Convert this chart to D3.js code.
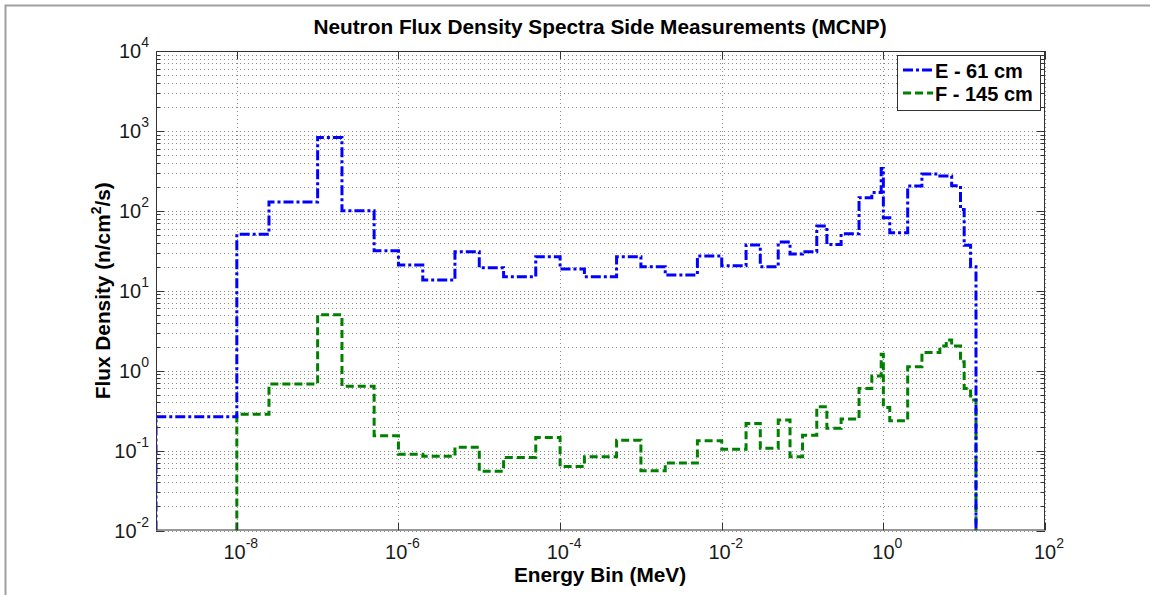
<!DOCTYPE html>
<html>
<head>
<meta charset="utf-8">
<script src="https://cdn.jsdelivr.net/npm/d3@7"></script>
<style>
  html, body { margin: 0; padding: 0; background: #ffffff; }
  svg { display: block; font-family: "Liberation Sans", Arial, Helvetica, sans-serif; }
</style>
</head>
<body>
<svg id="chart" width="1150" height="595"></svg>
<script>
// Energy bin edges (MeV) shared by both tallies
const energyEdges = [1e-9, 1e-8, 2.5e-8, 1e-7, 2e-7, 5e-7, 1e-6, 2e-6, 5e-6, 1e-5, 2e-5,
  5e-5, 1e-4, 2e-4, 5e-4, 1e-3, 2e-3, 5e-3, 1e-2, 2e-2, 3e-2, 5e-2, 7e-2, 0.1, 0.15, 0.2,
  0.3, 0.5, 0.72, 0.94, 1.0, 1.2, 2, 3, 5, 6, 7, 9, 10, 12, 14];

// Flux density per bin (n/cm^2/s), one value per bin
const fluxE61 = [0.265, 51, 129, 830, 100, 31.6, 21, 13.6, 30.8, 19.4, 15, 26.7, 18.7, 15,
  26.7, 20, 15.7, 27.2, 20.6, 37.3, 20, 40.7, 28.8, 30.8, 64.5, 38, 51.5, 146, 169, 339,
  82, 53, 204, 288, 273, 273, 206, 104, 37, 20];
const fluxF145 = [0, 0.284, 0.68, 5, 0.64, 0.153, 0.09, 0.085, 0.11, 0.055, 0.082, 0.146,
  0.063, 0.084, 0.135, 0.056, 0.07, 0.133, 0.104, 0.219, 0.107, 0.241, 0.084, 0.156, 0.353,
  0.19, 0.248, 0.6, 0.86, 1.6, 0.347, 0.236, 1.12, 1.69, 2.03, 2.42, 2.03, 1.29, 0.6, 0.43];

const seriesNames = ["E - 61 cm", "F - 145 cm"];
const xTickExponents = [-8, -6, -4, -2, 0, 2];
const yTickExponents = [-2, -1, 0, 1, 2, 3, 4];
const titleText = "Neutron Flux Density Spectra Side Measurements (MCNP)";
const xLabelText = "Energy Bin (MeV)";

const svg = d3.select("#chart");
const W = 1150, H = 595;
const plot = { left: 156, right: 1045, top: 51, bottom: 530.5 };

const x = d3.scaleLog().domain([1e-9, 1e2]).range([plot.left, plot.right]);
const y = d3.scaleLog().domain([1e-2, 1e4]).range([plot.bottom, plot.top]).clamp(true);

// figure frame (left & top edges)
svg.append("path")
  .attr("d", `M5.5,${H} V5.5 H${W}`)
  .attr("fill", "none").attr("stroke", "#a0a0a0").attr("stroke-width", 2);

// y grid: majors and minors for each decade
const yMinor = [];
yTickExponents.forEach(e => {
  if (e < 4) for (let m = 2; m <= 9; m++) yMinor.push(m * Math.pow(10, e));
});
const yMajor = yTickExponents.map(e => Math.pow(10, e));
const grid = svg.append("g").attr("stroke", "#8a8a8a").attr("stroke-width", 1)
  .attr("stroke-dasharray", "1,3").attr("fill", "none");
yMajor.concat(yMinor).forEach(v => {
  const yy = Math.round(y(v)) + 0.5;
  grid.append("line").attr("x1", plot.left).attr("x2", plot.right)
    .attr("y1", yy).attr("y2", yy);
});
const xMajor = xTickExponents.map(e => Math.pow(10, e));
xMajor.forEach(v => {
  const xx = Math.round(x(v)) + 0.5;
  grid.append("line").attr("x1", xx).attr("x2", xx)
    .attr("y1", plot.top).attr("y2", plot.bottom);
});

// step outline for a tally; leading empty bins are not drawn
function stepPoints(edges, vals) {
  const floor = y.domain()[0];
  let start = 0;
  while (start < vals.length && !(vals[start] > 0)) start++;
  const pts = [[edges[start], floor]];
  for (let i = start; i < vals.length; i++) {
    const vv = vals[i] > 0 ? vals[i] : floor;
    pts.push([edges[i], vv]);
    pts.push([edges[i + 1], vv]);
  }
  pts.push([edges[edges.length - 1], floor]);
  return pts;
}
svg.append("clipPath").attr("id", "plotClip").append("rect")
  .attr("x", plot.left).attr("y", plot.top - 2)
  .attr("width", plot.right - plot.left).attr("height", plot.bottom - plot.top + 2);

const line = d3.line().x(d => x(d[0])).y(d => y(d[1]));
const styles = [
  { color: "#0000ff", dash: "10,3,3,3" },
  { color: "#008000", dash: "8,4" }
];
const series = [fluxE61, fluxF145];
const lines = svg.append("g").attr("clip-path", "url(#plotClip)");
// draw F first so E sits on top where they overlap
[1, 0].forEach(i => {
  lines.append("path")
    .attr("d", line(stepPoints(energyEdges, series[i])))
    .attr("fill", "none")
    .attr("stroke", styles[i].color)
    .attr("stroke-width", 3)
    .attr("stroke-dasharray", styles[i].dash)
    .attr("stroke-linejoin", "miter");
});

// axes box with inward ticks
const axis = svg.append("g").attr("stroke", "#333333").attr("stroke-width", 1).attr("fill", "none");
axis.append("rect")
  .attr("x", plot.left + 0.5).attr("y", plot.top + 0.5)
  .attr("width", plot.right - plot.left - 1).attr("height", plot.bottom - plot.top - 1);
yMajor.forEach(v => {
  const yy = Math.round(y(v)) + 0.5;
  axis.append("line").attr("x1", plot.left).attr("x2", plot.left + 8).attr("y1", yy).attr("y2", yy);
  axis.append("line").attr("x1", plot.right - 8).attr("x2", plot.right).attr("y1", yy).attr("y2", yy);
});
yMinor.forEach(v => {
  const yy = Math.round(y(v)) + 0.5;
  axis.append("line").attr("x1", plot.left).attr("x2", plot.left + 4).attr("y1", yy).attr("y2", yy);
  axis.append("line").attr("x1", plot.right - 4).attr("x2", plot.right).attr("y1", yy).attr("y2", yy);
});
xMajor.forEach(v => {
  const xx = Math.round(x(v)) + 0.5;
  axis.append("line").attr("x1", xx).attr("x2", xx).attr("y1", plot.bottom - 8).attr("y2", plot.bottom);
  axis.append("line").attr("x1", xx).attr("x2", xx).attr("y1", plot.top).attr("y2", plot.top + 8);
});

// tick labels as 10 with superscript exponent
function powerLabel(g, e, px, py, anchor) {
  const t = g.append("text")
    .attr("x", px).attr("y", py)
    .attr("text-anchor", anchor)
    .attr("font-size", 20).attr("fill", "#1a1a1a");
  t.append("tspan").text("10");
  t.append("tspan").attr("dy", -11).attr("font-size", 14).text(String(e));
}
const labels = svg.append("g");
xTickExponents.forEach(e => powerLabel(labels, e, x(Math.pow(10, e)) + 4, 559, "middle"));
yTickExponents.forEach(e => powerLabel(labels, e, 149, y(Math.pow(10, e)) + 7, "end"));

// title and axis titles
svg.append("text")
  .attr("x", 600).attr("y", 34).attr("text-anchor", "middle")
  .attr("font-size", 20.8).attr("font-weight", "bold").attr("fill", "#000")
  .text(titleText);
svg.append("text")
  .attr("x", 600).attr("y", 582).attr("text-anchor", "middle")
  .attr("font-size", 20.8).attr("font-weight", "bold").attr("fill", "#000")
  .text(xLabelText);
const yl = svg.append("text")
  .attr("transform", `translate(110,${(plot.top + plot.bottom) / 2}) rotate(-90)`)
  .attr("text-anchor", "middle")
  .attr("font-size", 20.8).attr("font-weight", "bold").attr("fill", "#000");
yl.append("tspan").text("Flux Density (n/cm");
yl.append("tspan").attr("dy", -9).attr("font-size", 14).text("2");
yl.append("tspan").attr("dy", 9).text("/s)");

// legend
const lg = svg.append("g");
lg.append("rect")
  .attr("x", 897.5).attr("y", 55.5).attr("width", 143).attr("height", 55)
  .attr("fill", "#ffffff").attr("stroke", "#333333").attr("stroke-width", 1);
seriesNames.forEach((name, i) => {
  const ly = 70 + i * 23;
  lg.append("line")
    .attr("x1", 903).attr("x2", 933).attr("y1", ly).attr("y2", ly)
    .attr("stroke", styles[i].color).attr("stroke-width", 3)
    .attr("stroke-dasharray", styles[i].dash);
  lg.append("text")
    .attr("x", 935).attr("y", ly + 7.5)
    .attr("font-size", 20).attr("font-weight", "bold").attr("fill", "#000")
    .text(name);
});
</script>
</body>
</html>
